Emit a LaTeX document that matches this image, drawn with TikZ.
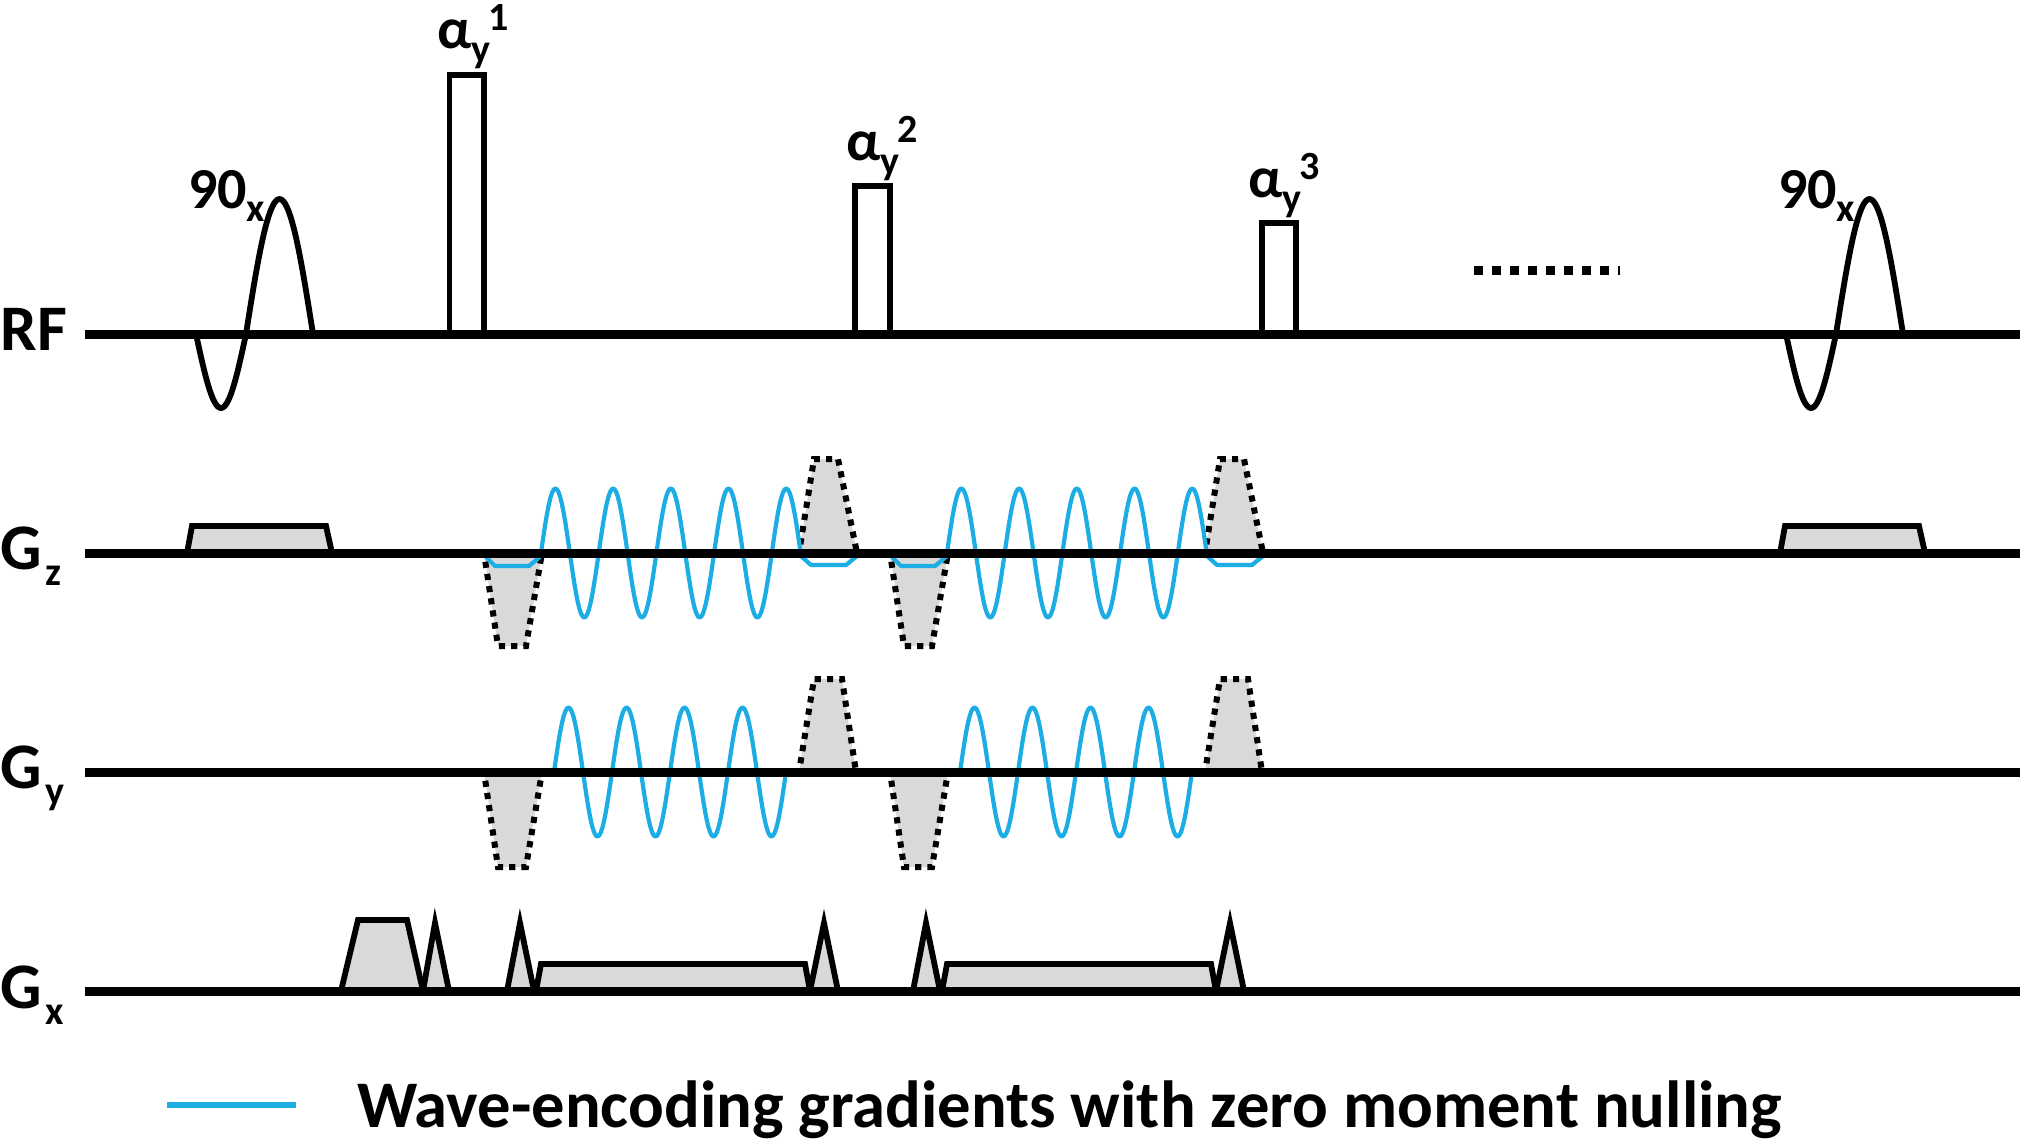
\documentclass[tikz,border=0pt]{standalone}
\usepackage{fontspec}
\setmainfont{Carlito}
\definecolor{wave}{HTML}{1BADE4}
\definecolor{gfill}{HTML}{D9D9D9}
\newcommand{\lsub}[2]{\raisebox{#1pt}{\fontsize{40}{40}\selectfont #2}}
\newcommand{\rfpulse}[1]{%
  \draw[pulse] plot[domain=0:180,samples=37] ({#1+196+50*(\x/180)},{334+74*sin(\x)});
  \draw[pulse] plot[domain=0:180,samples=37] ({#1+246+67*(\x/180)},{334-135*sin(\x)});}
\newcommand{\flip}[3]{\draw[box] (#1,334) -- (#1,#3) -- (#2,#3) -- (#2,334);}
\tikzset{
  pulse/.style={line width=5.8pt,black,line join=round},
  box/.style={line width=5.8pt,black,line join=miter},
  solidgrad/.style={draw=black,fill=gfill,line width=5.8pt,line join=miter},
  dottrap/.style={draw=black,fill=gfill,line width=6pt,dash pattern=on 6.2pt off 6.1pt,dash phase=3.5pt},
  wavy/.style={draw=wave,line width=4.2pt,line join=round},
  legendline/.style={draw=wave,line width=6pt},
  axisline/.style={line width=9pt,black},
  biglabel/.style={anchor=base west,inner sep=0pt,outer sep=0pt,font=\fontsize{65}{65}\selectfont\bfseries},
  flabel/.style={anchor=base west,inner sep=0pt,outer sep=0pt,font=\fontsize{58}{58}\selectfont\bfseries},
  legendtext/.style={anchor=base west,inner sep=0pt,outer sep=0pt,font=\fontsize{66.6}{66.6}\selectfont\bfseries},
}
\begin{document}
\begin{tikzpicture}[x=1pt,y=-1pt]
\useasboundingbox[fill=white] (0,0) rectangle (2023,1144);

% Gz solid
\path[solidgrad] (187,553) -- (192,526) -- (326,526) -- (332,553);
\path[solidgrad] (1780,553) -- (1785,526) -- (1919,526) -- (1925,553);
% Gz / Gy dashed lobes
\foreach \s in {0,406}{
  \begin{scope}[xshift=\s pt]
    \path[dottrap] (484,553) -- (498,646) -- (526,646) -- (542,553);
    \path[dottrap] (799,553) -- (814,459) -- (838,459) -- (857,553);
    \path[dottrap] (484,772) -- (498,867) -- (526,867) -- (542,772);
    \path[dottrap] (799,772) -- (814,679) -- (842,679) -- (856,772);
    \draw[wavy] (484,555) -- (495,566) -- (529,566) -- (541,556);
    \draw[wavy] (801,556) -- (811,565) -- (846,565) -- (857,556);
    \draw[wavy] plot[domain=0:1620,samples=163] ({541+57.7*(\x/360)},{553-64.5*sin(\x)});
    \draw[wavy] plot[domain=0:1440,samples=145] ({554+58*(\x/360)},{772-64.5*sin(\x)});
    % Gx
    \path[solidgrad] (507,991) -- (520,923) -- (534,991);
    \path[solidgrad] (536,991) -- (541,964) -- (805,964) -- (810,991);
    \path[solidgrad] (810,991) -- (824,923) -- (838,991);
  \end{scope}
}
\path[solidgrad] (341,991) -- (358,920) -- (407,920) -- (423,991);
\path[solidgrad] (423,991) -- (435,923) -- (449,991);

% RF events
\rfpulse{0}
\rfpulse{1590}
\flip{449.5}{484}{75}
\flip{855}{890}{186}
\flip{1262}{1296}{223}
\draw[line width=9pt,dash pattern=on 9pt off 9pt] (1474,270) -- (1620,270);

% Axes
\draw[axisline] (85,334) -- (2020,334);
\draw[axisline] (85,553) -- (2020,553);
\draw[axisline] (85,772) -- (2020,772);
\draw[axisline] (85,991) -- (2020,991);

% Labels
\node[biglabel] (rf) at (1,350) {RF};
\node[biglabel] (gz) at (1,569) {G\hspace{3pt}\lsub{-16}{z}};
\node[biglabel] (gy) at (1,788) {G\hspace{3pt}\lsub{-16}{y}};
\node[biglabel] (gx) at (1,1008) {G\hspace{3pt}\lsub{-16}{x}};
\node[flabel] (p1) at (188,208) {90\lsub{-13}{x}};
\node[flabel] (p2) at (1778,208) {90\lsub{-13}{x}};
\node[flabel] (a1) at (437,48) {α\lsub{-14}{y}\hspace{-2pt}\lsub{18}{1}};
\node[flabel] (a2) at (846,160) {α\lsub{-14}{y}\hspace{-2pt}\lsub{18}{2}};
\node[flabel] (a3) at (1248,197) {α\lsub{-14}{y}\hspace{-2pt}\lsub{18}{3}};

% Legend
\coordinate (l1) at (167,1105);
\coordinate (l2) at (296,1105);
\draw[legendline] (l1) -- (l2);
\node[legendtext] (leg) at (357,1127) {Wave-encoding gradients with zero moment nulling};
\end{tikzpicture}
\end{document}
